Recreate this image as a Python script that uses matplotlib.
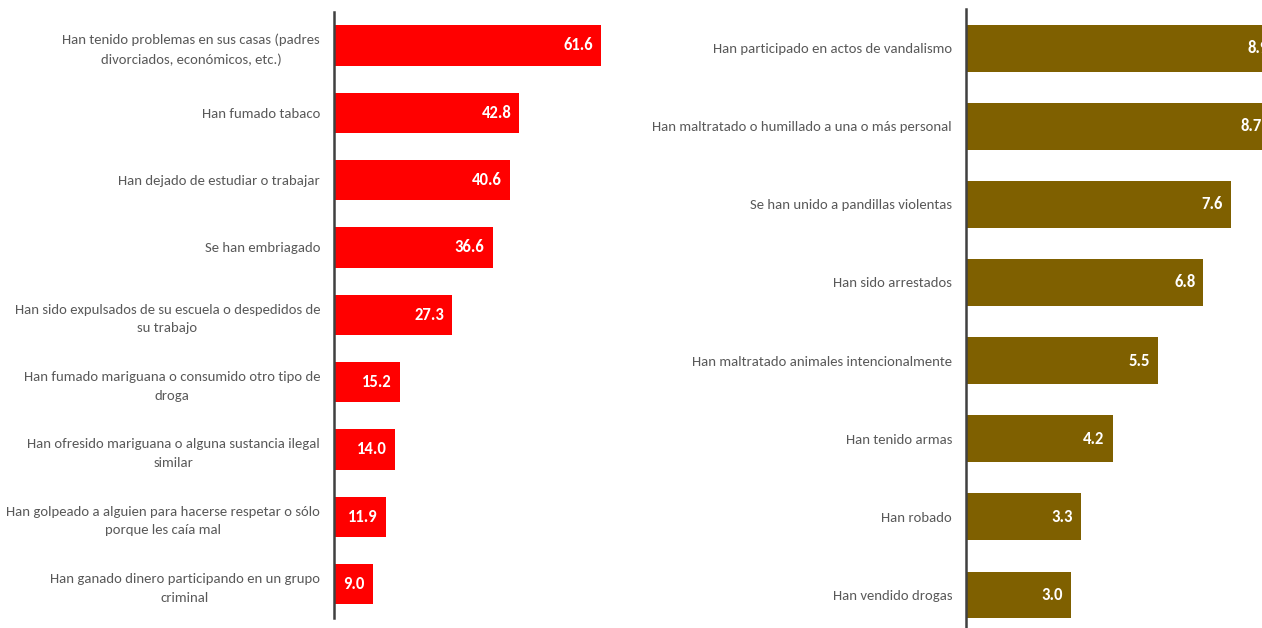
import matplotlib.pyplot as plt

plt.rcParams['font.family'] = ['Carlito', 'DejaVu Sans']

# Datos del panel izquierdo
izq_etiquetas = [
    "Han tenido problemas en sus casas (padres\ndivorciados, económicos, etc.)",
    "Han fumado tabaco",
    "Han dejado de estudiar o trabajar",
    "Se han embriagado",
    "Han sido expulsados de su escuela o despedidos de\nsu trabajo",
    "Han fumado mariguana o consumido otro tipo de\ndroga",
    "Han ofresido mariguana o alguna sustancia ilegal\nsimilar",
    "Han golpeado a alguien para hacerse respetar o sólo\nporque les caía mal",
    "Han ganado dinero participando en un grupo\ncriminal",
]
izq_valores = [61.6, 42.8, 40.6, 36.6, 27.3, 15.2, 14.0, 11.9, 9.0]

# Datos del panel derecho
der_etiquetas = [
    "Han participado en actos de vandalismo",
    "Han maltratado o humillado a una o más personal",
    "Se han unido a pandillas violentas",
    "Han sido arrestados",
    "Han maltratado animales intencionalmente",
    "Han tenido armas",
    "Han robado",
    "Han vendido drogas",
]
der_valores = [8.9, 8.7, 7.6, 6.8, 5.5, 4.2, 3.3, 3.0]

fig = plt.figure(figsize=(12.62, 6.28), dpi=100)
W, H = 1262, 628

ax1 = fig.add_axes([334 / W, 10.3 / H, 286 / W, 606 / H])
ax2 = fig.add_axes([966 / W, -6 / H, 349 / W, 625 / H])


def panel(ax, etiquetas, valores, color, xmax, off):
    n = len(valores)
    pos = list(range(n))
    ax.barh(pos, valores, height=0.6, color=color, edgecolor='none')
    ax.set_ylim(n - 0.5, -0.5)
    ax.set_xlim(0, xmax)
    ax.set_yticks(pos)
    ax.set_yticklabels(etiquetas, fontsize=10.6, color='#595959',
                       linespacing=1.65)
    for lbl in ax.get_yticklabels():
        lbl.set_multialignment('center')
    ax.tick_params(axis='y', length=0, pad=10)
    ax.set_xticks([])
    for s in ['top', 'right', 'bottom']:
        ax.spines[s].set_visible(False)
    ax.spines['left'].set_color('#404040')
    ax.spines['left'].set_linewidth(1.8)
    for p, v in zip(pos, valores):
        ax.text(v - off, p, f"{v:.1f}", ha='right', va='center',
                color='white', fontsize=12, fontweight='bold')


panel(ax1, izq_etiquetas, izq_valores, '#ff0000', 66, 1.85)
panel(ax2, der_etiquetas, der_valores, '#7f6000', 10, 0.23)

fig.savefig('out.png', dpi=100)
